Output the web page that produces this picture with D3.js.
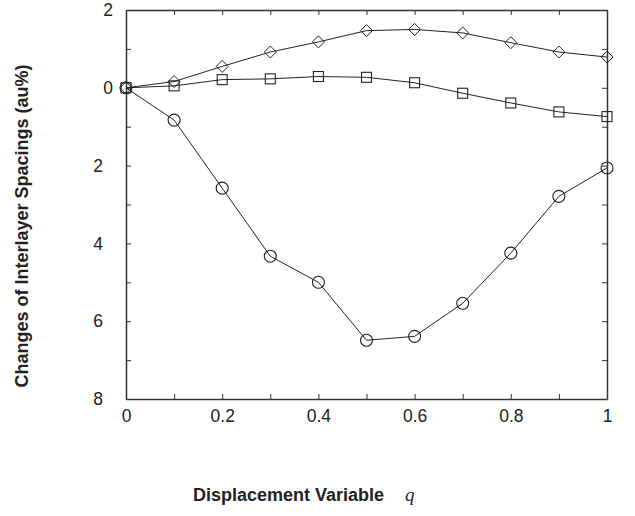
<!DOCTYPE html>
<html lang="en">
<head>
<meta charset="utf-8">
<title>Interlayer spacings</title>
<script src="https://d3js.org/d3.v7.min.js"></script>
<style>
body { margin: 0; background: #fff; }
svg { display: block; font-family: "Liberation Sans", Arial, sans-serif; }
.axis path, .axis line { stroke: #333; }
.axis path { stroke-width: 1.5px; }
.axis text { font-size: 17.5px; fill: #222; }
.series path { fill: none; stroke: #222; stroke-width: 1px; }
.marker { fill: none; stroke: #222; stroke-width: 1.1px; }
</style>
</head>
<body>
<script>

// data
var qValues = [0, 0.1, 0.2, 0.3, 0.4, 0.5, 0.6, 0.7, 0.8, 0.9, 1.0];
var diamondVals = [0, 0.16, 0.55, 0.92, 1.18, 1.47, 1.50, 1.41, 1.16, 0.92, 0.79];
var squareVals  = [0, 0.05, 0.21, 0.23, 0.29, 0.27, 0.13, -0.14, -0.39, -0.62, -0.74];
var circleVals  = [0, -0.83, -2.58, -4.33, -5.00, -6.49, -6.39, -5.54, -4.25, -2.79, -2.06];

var xTickVals = [0, 0.2, 0.4, 0.6, 0.8, 1];
var xTickLabels = ["0", "0.2", "0.4", "0.6", "0.8", "1"];
var yTickVals = [2, 0, -2, -4, -6, -8];
var yTickLabels = ["2", "0", "2", "4", "6", "8"];

var width = 635, height = 516;
var plot = {left: 126, right: 607, top: 10, bottom: 399};

var svg = d3.select("body").append("svg")
    .attr("width", width)
    .attr("height", height);

var xScale = d3.scaleLinear().domain([0, 1]).range([plot.left, plot.right]);
var yScale = d3.scaleLinear().domain([-8, 2]).range([plot.bottom, plot.top]);

// minor ticks (every 0.1 on x, every 1 on y)
var xMinor = d3.range(0, 11).map(function(i) { return i / 10; });
var yMinor = d3.range(-8, 3);

// bottom axis with labels
svg.append("g")
    .attr("class", "axis")
    .attr("transform", "translate(0," + plot.bottom + ")")
    .call(d3.axisBottom(xScale).tickValues(xMinor).tickSizeInner(-5).tickSizeOuter(0)
      .tickPadding(11)
      .tickFormat(function(d) {
        var i = xTickVals.findIndex(function(v) { return Math.abs(v - d) < 1e-9; });
        return i >= 0 ? xTickLabels[i] : "";
      }));

// top axis (ticks only)
svg.append("g")
    .attr("class", "axis")
    .attr("transform", "translate(0," + plot.top + ")")
    .call(d3.axisTop(xScale).tickValues(xMinor).tickSizeInner(-5).tickSizeOuter(0).tickFormat(""));

// left axis with labels
var yAxisG = svg.append("g")
    .attr("class", "axis")
    .attr("transform", "translate(" + plot.left + ",0)")
    .call(d3.axisLeft(yScale).tickValues(yMinor).tickSizeInner(-5).tickSizeOuter(0)
      .tickPadding(13)
      .tickFormat(function(d) {
        var i = yTickVals.indexOf(d);
        return i >= 0 ? yTickLabels[i] : "";
      }));
// the negative labels keep the room of their (blank) minus sign
yAxisG.selectAll(".tick text")
    .attr("dx", function(d) { return d < 0 ? -10 : 0; });

// right axis (ticks only)
svg.append("g")
    .attr("class", "axis")
    .attr("transform", "translate(" + plot.right + ",0)")
    .call(d3.axisRight(yScale).tickValues(yMinor).tickSizeInner(-5).tickSizeOuter(0).tickFormat(""));

// series
var series = [
  {vals: circleVals, shape: "circle"},
  {vals: squareVals, shape: "square"},
  {vals: diamondVals, shape: "diamond"}
];

var line = d3.line()
    .x(function(d) { return xScale(d[0]); })
    .y(function(d) { return yScale(d[1]); });

var shapes = {
  circle: function(s) { s.append("circle").attr("r", 6); },
  square: function(s) { s.append("rect").attr("x", -5).attr("y", -5).attr("width", 10).attr("height", 10); },
  diamond: function(s) { s.append("path").attr("d", "M0,-6L6,0L0,6L-6,0Z"); }
};

series.forEach(function(ser) {
  var pts = qValues.map(function(q, i) { return [q, ser.vals[i]]; });
  var g = svg.append("g").attr("class", "series");
  g.append("path").attr("d", line(pts));
  g.selectAll(".m")
    .data(pts)
    .enter().append("g")
    .attr("class", "marker")
    .attr("transform", function(d) { return "translate(" + xScale(d[0]) + "," + yScale(d[1]) + ")"; })
    .each(function() { shapes[ser.shape](d3.select(this)); });
});

// axis titles
svg.append("text")
    .attr("transform", "translate(28,226) rotate(-90)")
    .attr("text-anchor", "middle")
    .style("font-size", "18px")
    .style("font-weight", "bold")
    .style("fill", "#222")
    .text("Changes of Interlayer Spacings (au%)");

svg.append("text")
    .attr("x", 193)
    .attr("y", 500.5)
    .style("font-size", "18px")
    .style("font-weight", "bold")
    .style("fill", "#222")
    .text("Displacement Variable");

svg.append("text")
    .attr("x", 405)
    .attr("y", 500.5)
    .style("font-family", "'Liberation Serif', 'DejaVu Serif', serif")
    .style("font-style", "italic")
    .style("font-size", "19px")
    .style("fill", "#222")
    .text("q");

</script>
</body>
</html>
